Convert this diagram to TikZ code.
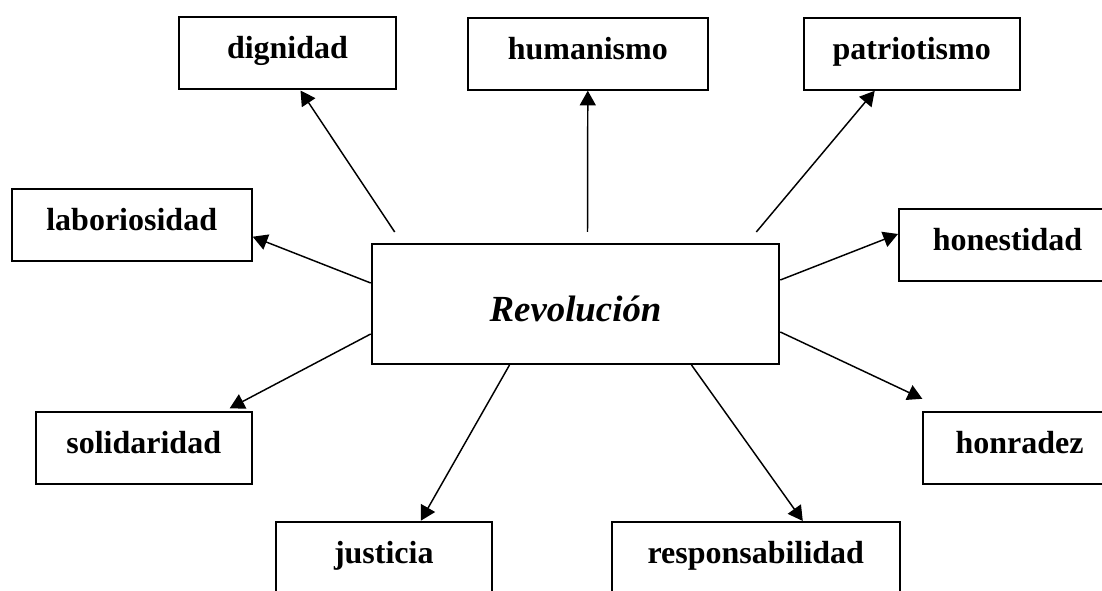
\documentclass[tikz,border=0pt]{standalone}
\usepackage{fontspec}
\setmainfont{Liberation Serif}
\usepackage{tikz}
\usetikzlibrary{arrows.meta}
\usetikzlibrary{calc}

\begin{document}
\begin{tikzpicture}[->,>={Triangle[length=11pt,width=12pt]},line width=1.1pt,x=0.75pt,y=-0.75pt]
  \tikzstyle{valor}=[draw,line width=1.5pt,inner xsep=0pt,inner ysep=0pt,
    text height=31pt,text depth=23pt,font=\bfseries\fontsize{24}{28}\selectfont]
  \tikzstyle{centro}=[draw,line width=1.5pt,inner xsep=0pt,inner ysep=0pt,
    text height=58.3pt,text depth=31.7pt,minimum width=305.7pt,
    font=\bfseries\itshape\fontsize{27.6}{32}\selectfont]
  \clip (0,0) rectangle (1102,591);

  % centro
  \node[centro] (rev) at (575.5,304) {Revolución};

  % valores
  \node[valor,minimum width=162.8pt] (dig) at (287.5,53.5)  {dignidad};
  \node[valor,minimum width=179.6pt] (hum) at (587.8,53.7)  {humanismo};
  \node[valor,minimum width=162pt]   (pat) at (911.7,53.8)  {patriotismo};
  \node[valor,minimum width=180pt]   (lab) at (131.7,224.7) {laboriosidad};
  \node[valor,minimum width=162.8pt] (hon) at (1007.5,245.5) {honestidad};
  \node[valor,minimum width=162pt]   (sol) at (143.7,448.3) {solidaridad};
  \node[valor,minimum width=144.3pt] (hnr) at (1019.5,447.8) {honradez};
  \node[valor,minimum width=161.8pt] (jus) at (383.8,557.7) {justicia};
  \node[valor,minimum width=216.2pt] (res) at (755.8,558)   {responsabilidad};

  \path
    ($(rev.north west)+(24,-11)$) edge ($(dig.south)+(13,0)$)
    ($(rev.north)+(12,-11)$)      edge (hum.south)
    ($(rev.north east)+(-24,-11)$) edge ($(pat.south)+(-37,0)$)
    ($(rev.north east)+(0,37)$)   edge ($(hon.west)+(0,-11.5)$)
    ($(rev.north west)+(0,40)$)   edge ($(lab.east)+(0,12)$)
    ($(rev.south west)+(0,-31)$)  edge ($(sol.north)+(86,-3)$)
    ($(rev.south east)+(0,-33)$)  edge ($(hnr.north west)+(0,-12)$)
    ($(rev.south)+(-66,0)$)       edge ($(jus.north)+(37,0)$)
    ($(rev.south)+(116,0)$)       edge ($(res.north)+(47,0)$);
\end{tikzpicture}
\end{document}
